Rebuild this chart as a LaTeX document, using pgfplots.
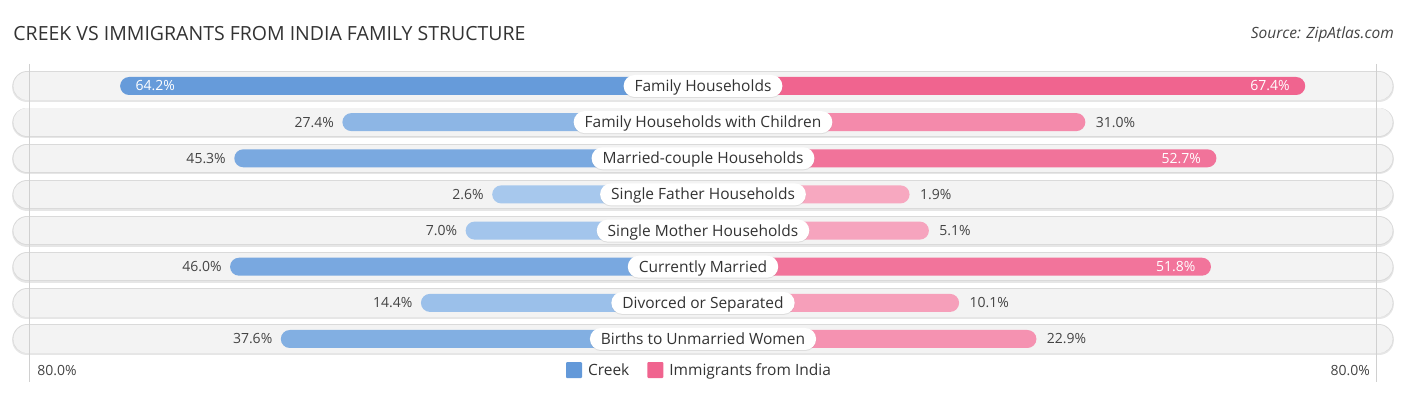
\documentclass[border=0pt]{standalone}
\usepackage{fontspec}
\setmainfont{Open Sans}
\usepackage{pgfplots}
\pgfplotsset{compat=1.18}
\usetikzlibrary{shadows}
\definecolor{cdark}{HTML}{6399D9}
\definecolor{clight}{HTML}{AACAEE}
\definecolor{pdark}{HTML}{F0648F}
\definecolor{plight}{HTML}{F7AAC2}
\definecolor{rowfill}{HTML}{F3F3F3}
\definecolor{rowborder}{HTML}{DADADA}
\definecolor{rowshadow}{HTML}{E6E6E6}
\definecolor{txt}{HTML}{333333}
\definecolor{valtxt}{HTML}{444444}
\definecolor{gridc}{HTML}{D0D0D0}
\newcommand\vfont{\fontsize{14}{16}\selectfont}
\tikzset{
  lbl/.style={fill=white, rounded corners=11pt, minimum height=22pt, inner xsep=11pt, inner ysep=0pt, text height=11.3pt, text depth=0.3pt, text=txt, font=\fontsize{15.5}{17}\selectfont, drop shadow={opacity=0.18, shadow xshift=0pt, shadow yshift=-1pt}},
  cin/.style={anchor=west, text=white, xshift=12pt, font=\vfont},
  cout/.style={anchor=east, text=valtxt, xshift=-5pt, font=\vfont},
  iin/.style={anchor=east, text=white, xshift=-12pt, font=\vfont},
  iout/.style={anchor=west, text=valtxt, xshift=7pt, font=\vfont},
}
\newcommand\brow[8]{%
  \draw[line width=30pt, line cap=round, draw=rowshadow, yshift=-1.2pt] (axis cs:-111.9,#1) -- (axis cs:111.9,#1);
  \draw[line width=29pt, line cap=round, draw=rowborder] (axis cs:-111.9,#1) -- (axis cs:111.9,#1);
  \draw[line width=27.4pt, line cap=round, draw=rowfill] (axis cs:-111.9,#1) -- (axis cs:111.9,#1);
  \addplot[forget plot, xbar, bar shift=0pt, bar width=18pt, draw=none, fill=cdark!#5!clight, rounded corners=9pt, x filter/.expression={-(x+32.3)}] coordinates {(#3,#1)};
  \addplot[forget plot, xbar, bar shift=0pt, bar width=18pt, draw=none, fill=pdark!#6!plight, rounded corners=9pt, x filter/.expression={x+32.3}] coordinates {(#4,#1)};
  \node[lbl] at (axis cs:0,#1) {#2};
  \node[#7] at (axis cs:{-(#3+32.3)},#1) {#3\%};
  \node[#8] at (axis cs:{#4+32.3},#1) {#4\%};
}
\begin{document}
\begin{tikzpicture}
\begin{axis}[
  scale only axis, width=1406pt, height=395pt,
  xmin=-116.39, xmax=116.39, ymin=0, ymax=395, y dir=reverse,
  axis lines=none, ticks=none, clip=false,
  legend image code/.code={\fill[#1, rounded corners=1pt] (0pt,-8pt) rectangle (16pt,8pt); \path (20pt,0pt);},
  legend style={at={(axis description cs:0.4975,0.063)}, anchor=center, draw=none, fill=none,
    legend columns=2, font=\fontsize{15.5}{17}\selectfont, text=txt,
    /tikz/every even column/.append style={column sep=16pt}},
]
\path (rel axis cs:0,0) rectangle (rel axis cs:1,1);
\brow{86}{Family Households}{64.2}{67.4}{96}{100}{cin}{iin}
\brow{122.1}{Family Households with Children}{27.4}{31.0}{41}{46}{cout}{iout}
\brow{158.3}{Married-couple Households}{45.3}{52.7}{68}{79}{cout}{iin}
\brow{194.4}{Single Father Households}{2.6}{1.9}{4}{3}{cout}{iout}
\brow{230.6}{Single Mother Households}{7.0}{5.1}{10}{8}{cout}{iout}
\brow{266.7}{Currently Married}{46.0}{51.8}{69}{77}{cout}{iin}
\brow{302.9}{Divorced or Separated}{14.4}{10.1}{21}{15}{cout}{iout}
\brow{339}{Births to Unmarried Women}{37.6}{22.9}{56}{34}{cout}{iout}
\draw[gridc, line width=0.8pt] (axis cs:-111.5,64) -- (axis cs:-111.5,382);
\draw[gridc, line width=0.8pt] (axis cs:111.5,64) -- (axis cs:111.5,382);
\node[anchor=west, text=valtxt, font=\vfont] at (axis cs:-110.8,371) {80.0\%};
\node[anchor=east, text=valtxt, font=\vfont] at (axis cs:111.0,371) {80.0\%};
\node[anchor=west, text=txt, font=\fontsize{19.5}{22}\selectfont, inner sep=0pt] at (axis cs:-114.2,34) {CREEK VS IMMIGRANTS FROM INDIA FAMILY STRUCTURE};
\node[anchor=east, text=valtxt, font=\fontsize{15.5}{17}\selectfont\itshape, inner sep=0pt] at (axis cs:114.4,34) {Source: ZipAtlas.com};
\addlegendimage{fill=cdark, draw=none}
\addlegendentry{Creek}
\addlegendimage{fill=pdark, draw=none}
\addlegendentry{Immigrants from India}
\end{axis}
\end{tikzpicture}
\end{document}
